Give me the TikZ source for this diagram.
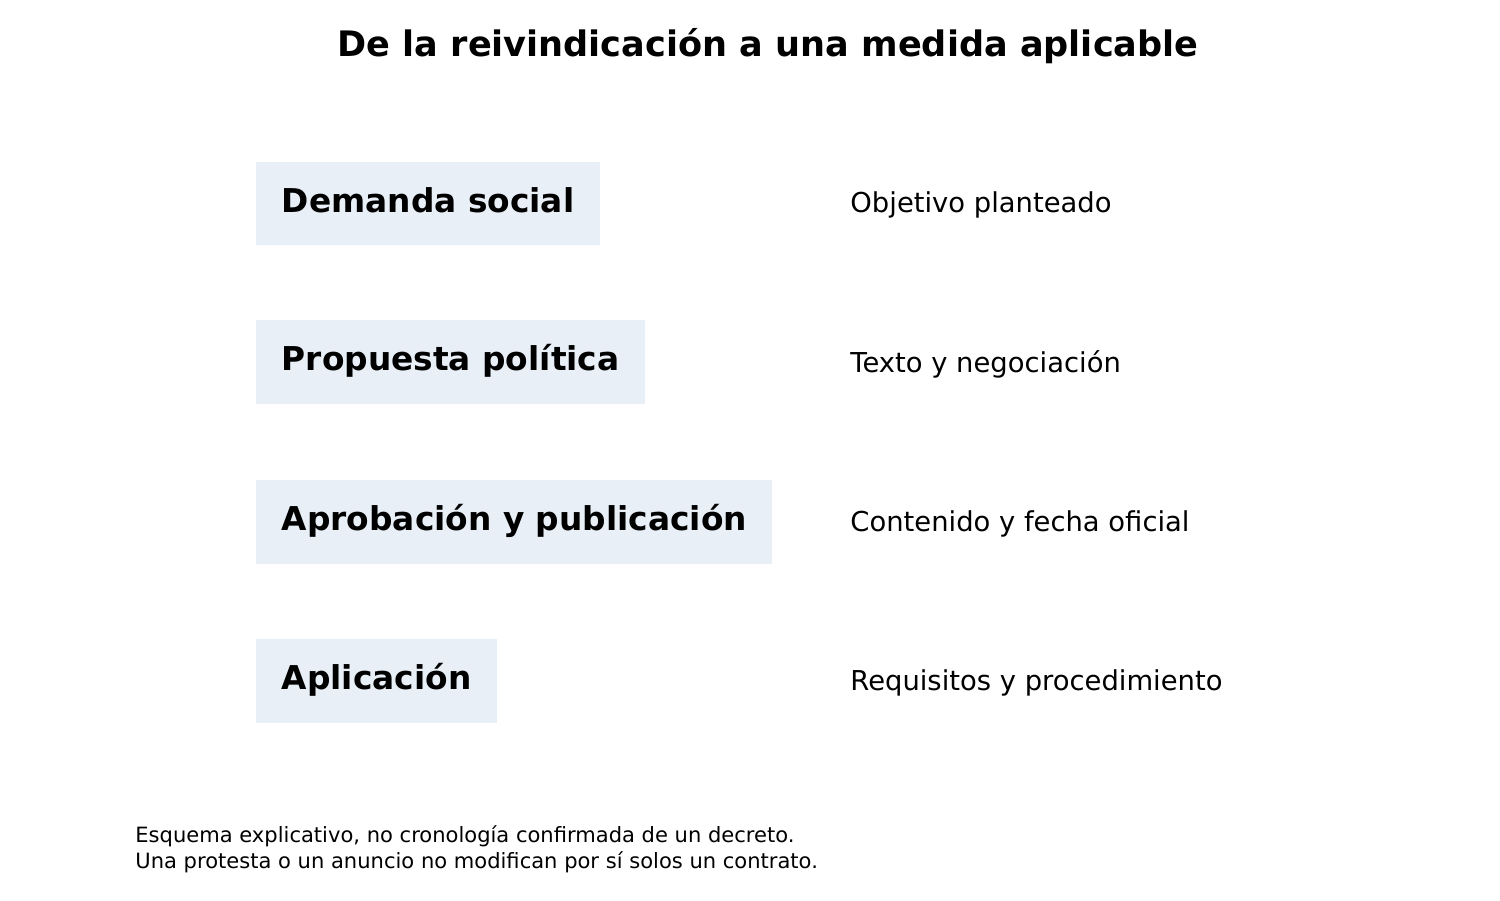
\documentclass[tikz,border=0pt]{standalone}
\usepackage{fontspec}
\setmainfont{DejaVu Sans}
\definecolor{boxfill}{HTML}{E8EFF6}
\begin{document}
\begin{tikzpicture}[x=0.48pt,y=-0.48pt,
  stagebox/.style={fill=boxfill,anchor=west,inner xsep=12.2pt,minimum height=40pt,font=\fontsize{15.75}{19}\selectfont\bfseries,text height=12pt,text depth=3.5pt},
  sidelabel/.style={anchor=west,inner sep=0pt,font=\fontsize{13.15}{15}\selectfont},
  titlelabel/.style={font=\fontsize{16.85}{20}\selectfont\bfseries,inner sep=0pt},
  notelabel/.style={anchor=north west,inner sep=0pt,align=left,font=\fontsize{10.1}{12.5}\selectfont}]
\useasboundingbox (0,0) rectangle (1500,900);
\node[titlelabel] (title) at (768,46) {De la reivindicación a una medida aplicable};
\node[stagebox] (s1) at (256,203.5) {Demanda social};
\node[stagebox] (s2) at (256,362) {Propuesta política};
\node[stagebox] (s3) at (256,522) {Aprobación y publicación};
\node[stagebox] (s4) at (256,681) {Aplicación};
\node[sidelabel] (l1) at (850,205) {Objetivo planteado};
\node[sidelabel] (l2) at (850,364) {Texto y negociación};
\node[sidelabel] (l3) at (850,523.5) {Contenido y fecha oficial};
\node[sidelabel] (l4) at (850,683) {Requisitos y procedimiento};
\node[notelabel] (note) at (135,825) {Esquema explicativo, no cronología confirmada de un decreto.\\Una protesta o un anuncio no modifican por sí solos un contrato.};
\end{tikzpicture}
\end{document}
